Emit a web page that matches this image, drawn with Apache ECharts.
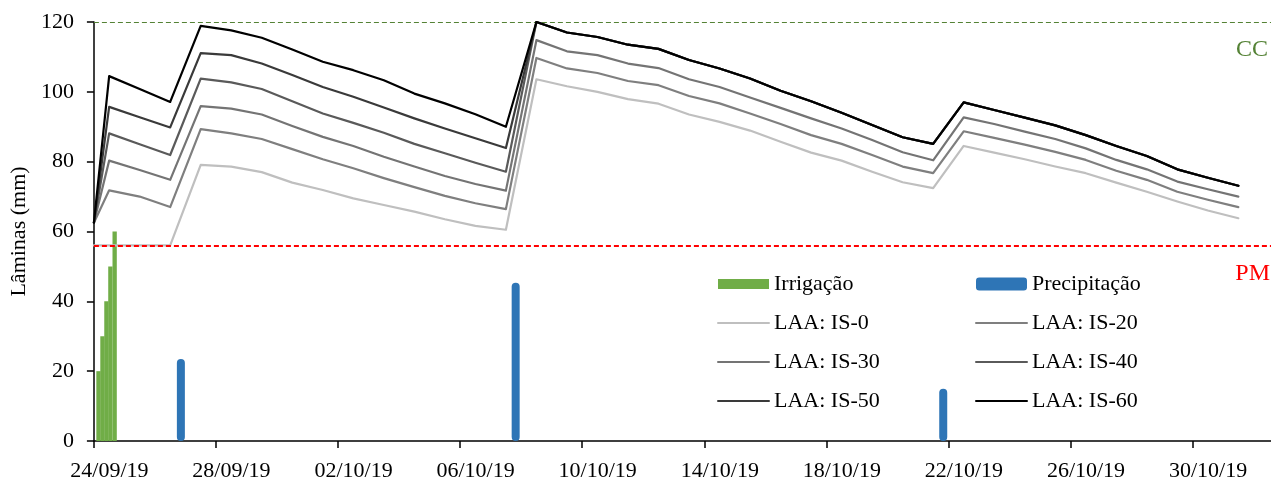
<!DOCTYPE html>
<html><head><meta charset="utf-8">
<script src="https://cdn.jsdelivr.net/npm/echarts@6/dist/echarts.min.js"></script>
<style>html,body{margin:0;padding:0;background:#fff}#c{width:1271px;height:482px}</style>
</head><body><div id="c"></div>
<script>
// x values: days elapsed since 24/09/19 00:00
const tickLabels = ['24/09/19','28/09/19','02/10/19','06/10/19','10/10/19','14/10/19','18/10/19','22/10/19','26/10/19','30/10/19'];
const timeDays = [0, 0.5, 1.5, 2.5, 3.5, 4.5, 5.5, 6.5, 7.5, 8.5, 9.5, 10.5, 11.5, 12.5, 13.5, 14.5, 15.5, 16.5, 17.5, 18.5, 19.5, 20.5, 21.5, 22.5, 23.5, 24.5, 25.5, 26.5, 27.5, 28.5, 29.5, 30.5, 31.5, 32.5, 33.5, 34.5, 35.5, 36.5, 37.5];
const is0  = [56, 56, 56, 56, 79.1, 78.6, 77.0, 74.0, 71.9, 69.5, 67.6, 65.7, 63.5, 61.6, 60.5, 103.6, 101.6, 100.0, 97.9, 96.6, 93.5, 91.4, 88.9, 85.7, 82.6, 80.3, 77.1, 74.1, 72.4, 84.5, 82.6, 80.7, 78.6, 76.7, 74.0, 71.4, 68.6, 66.0, 63.8];
const is20 = [62.5, 71.8, 70.0, 67.0, 89.3, 88.1, 86.5, 83.6, 80.7, 78.1, 75.3, 72.7, 70.2, 68.1, 66.4, 109.7, 106.7, 105.4, 103.1, 101.9, 98.8, 96.7, 93.8, 90.8, 87.6, 85.1, 81.9, 78.6, 76.7, 88.7, 86.8, 84.9, 82.8, 80.5, 77.4, 74.8, 71.4, 69.1, 67.0];
const is30 = [62.5, 80.3, 77.6, 74.8, 95.9, 95.2, 93.5, 90.2, 87.1, 84.5, 81.4, 78.6, 75.9, 73.6, 71.7, 114.8, 111.6, 110.5, 108.1, 106.8, 103.6, 101.4, 98.4, 95.4, 92.4, 89.5, 86.2, 82.7, 80.4, 92.7, 90.8, 88.6, 86.5, 83.8, 80.5, 77.8, 74.3, 72.1, 70.0];
const is40 = [62.5, 88.1, 85.0, 81.9, 103.8, 102.7, 100.8, 97.3, 93.8, 91.1, 88.3, 85.1, 82.4, 79.7, 77.1, 120.0, 117.0, 115.7, 113.5, 112.3, 109.1, 106.7, 103.8, 100.3, 97.3, 94.0, 90.5, 87.0, 85.1, 97.0, 94.8, 92.6, 90.4, 87.6, 84.5, 81.6, 77.8, 75.4, 73.1];
const is50 = [62.5, 95.7, 92.7, 89.8, 111.1, 110.5, 108.1, 104.8, 101.4, 98.6, 95.5, 92.4, 89.5, 86.7, 83.9, 120.0, 117.0, 115.7, 113.5, 112.3, 109.1, 106.7, 103.8, 100.3, 97.3, 94.0, 90.5, 87.0, 85.1, 97.0, 94.8, 92.6, 90.4, 87.6, 84.5, 81.6, 77.8, 75.4, 73.1];
const is60 = [62.5, 104.5, 100.8, 97.1, 118.9, 117.6, 115.5, 112.1, 108.6, 106.2, 103.3, 99.5, 96.7, 93.6, 90.0, 120.0, 117.0, 115.7, 113.5, 112.3, 109.1, 106.7, 103.8, 100.3, 97.3, 94.0, 90.5, 87.0, 85.1, 97.0, 94.8, 92.6, 90.4, 87.6, 84.5, 81.6, 77.8, 75.4, 73.1];
const irrigTimes = [0.15, 0.28, 0.41, 0.54, 0.68];
const irrigValues = [20, 30, 40, 50, 60];
const precTimes = [2.85, 13.82, 27.83];
const precValues = [23.5, 45.3, 15.0];
const ccValue = 120;
const pmValue = 56;

const FONT = "'Liberation Serif', 'Times New Roman', serif";
const xMax = 38.57;
const pair = (xs, ys) => xs.map((x, i) => [x, ys[i]]);

const lineDefs = [
  {name: 'LAA: IS-0',  data: is0,  color: '#BFBFBF'},
  {name: 'LAA: IS-20', data: is20, color: '#7F7F7F'},
  {name: 'LAA: IS-30', data: is30, color: '#747474'},
  {name: 'LAA: IS-40', data: is40, color: '#5A5A5A'},
  {name: 'LAA: IS-50', data: is50, color: '#3A3A3A'},
  {name: 'LAA: IS-60', data: is60, color: '#000000'}
];

const series = [
  {
    name: 'Irrigação', type: 'bar', xAxisIndex: 0, barWidth: 4.3,
    itemStyle: {color: '#70AD47'}, data: pair(irrigTimes, irrigValues), z: 3
  },
  {
    name: 'Precipitação', type: 'bar', xAxisIndex: 1, barWidth: 8,
    itemStyle: {color: '#2E75B6', borderRadius: 4}, data: pair(precTimes, precValues), z: 3
  }
];
lineDefs.forEach((d, i) => {
  const s = {
    name: d.name, type: 'line', xAxisIndex: 0, symbol: 'none', smooth: false,
    lineStyle: {color: d.color, width: 2.2, cap: 'round', join: 'round'},
    itemStyle: {color: d.color},
    data: pair(timeDays, d.data), z: 4 + i
  };
  if (i === 0) {
    s.markLine = {
      silent: true, symbol: ['none', 'none'], animation: false,
      data: [
        {yAxis: ccValue, lineStyle: {color: '#548235', type: [5, 3], width: 1},
         label: {show: true, formatter: 'CC', position: 'insideEndBottom', color: '#548235', fontFamily: FONT, fontSize: 24, distance: [3, 16]}},
        {yAxis: pmValue, lineStyle: {color: '#FF0000', type: [5, 3], width: 2},
         label: {show: true, formatter: 'PM', position: 'insideEndBottom', color: '#FF0000', fontFamily: FONT, fontSize: 24, distance: [1, 16]}}
      ]
    };
  }
  series.push(s);
});

const lineItem = name => ({name: name, itemStyle: {opacity: 0}});

const xAxisBase = {
  type: 'value', min: 0, max: xMax, interval: 4,
  splitLine: {show: false}
};

const option = {
  animation: false,
  textStyle: {fontFamily: FONT},
  grid: {left: 92, right: 0, top: 22, bottom: 40},
  legend: [
    {
      orient: 'vertical', left: 717, top: 273, padding: 0, itemGap: 17,
      itemWidth: 51, itemHeight: 10,
      textStyle: {fontFamily: FONT, fontSize: 22, color: '#000'},
      data: [{name: 'Irrigação', icon: 'rect'}, lineItem('LAA: IS-0'), lineItem('LAA: IS-30'), lineItem('LAA: IS-50')]
    },
    {
      orient: 'vertical', left: 975, top: 273, padding: 0, itemGap: 17,
      itemWidth: 51, itemHeight: 13,
      textStyle: {fontFamily: FONT, fontSize: 22, color: '#000'},
      data: ['Precipitação', lineItem('LAA: IS-20'), lineItem('LAA: IS-40'), lineItem('LAA: IS-60')]
    }
  ],
  xAxis: [
    Object.assign({}, xAxisBase, {
      axisLine: {show: true, lineStyle: {color: '#000', width: 1.5}},
      axisTick: {show: true, inside: false, length: 7, lineStyle: {color: '#000', width: 1.5}},
      axisLabel: {
        fontFamily: FONT, fontSize: 22, color: '#000', margin: 19,
        padding: [0, 0, 0, 31], showMaxLabel: false,
        formatter: v => {
          const k = v / 4;
          return (Math.abs(k - Math.round(k)) < 1e-6 && tickLabels[Math.round(k)]) ? tickLabels[Math.round(k)] : '';
        }
      }
    }),
    Object.assign({}, xAxisBase, {show: false})
  ],
  yAxis: {
    type: 'value', min: 0, max: 120, interval: 20,
    name: 'Lâminas (mm)', nameLocation: 'middle', nameGap: 50,
    nameTextStyle: {fontFamily: FONT, fontSize: 22, color: '#000'},
    axisLine: {show: true, lineStyle: {color: '#000', width: 1.5}},
    axisTick: {show: true, inside: false, length: 7, lineStyle: {color: '#000', width: 1.5}},
    axisLabel: {fontFamily: FONT, fontSize: 22, color: '#000', margin: 20},
    splitLine: {show: false}
  },
  series: series
};

const chart = echarts.init(document.getElementById('c'), null, {renderer: 'canvas'});
chart.setOption(option);
</script>
</body></html>
